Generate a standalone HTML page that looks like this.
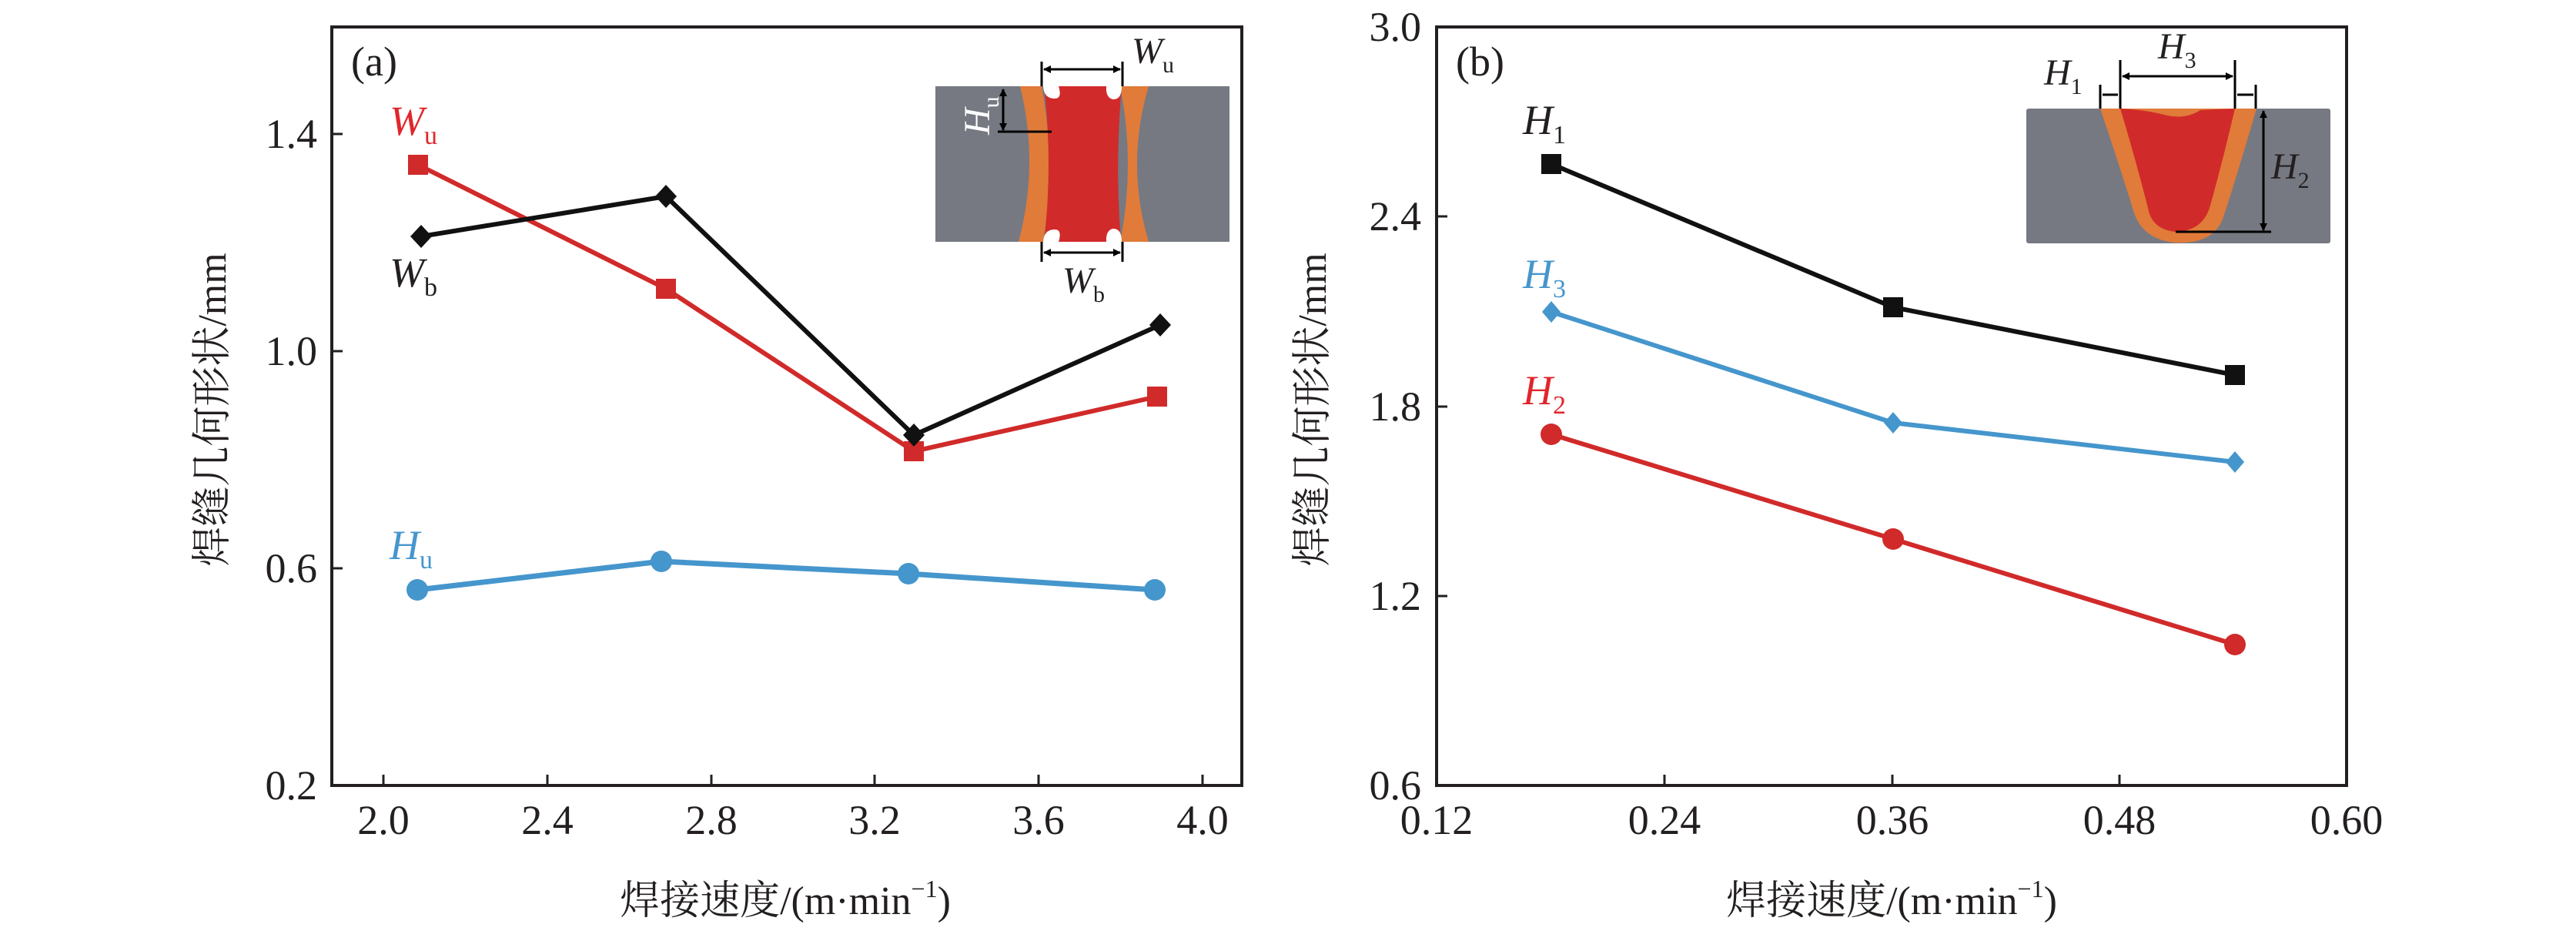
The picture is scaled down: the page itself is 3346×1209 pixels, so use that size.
<!DOCTYPE html>
<html><head><meta charset="utf-8"><style>
html,body{margin:0;padding:0;background:#fff;}
svg{display:block;}
text{font-family:"Liberation Serif","Noto Serif CJK SC",serif;fill:#231f20;}
.t{font-size:54px;}
.cj{font-family:"Liberation Serif","Noto Serif CJK SC","Noto Sans CJK SC",serif;font-size:52px;}
</style></head><body>
<svg width="3346" height="1209" viewBox="0 0 3346 1209" xmlns="http://www.w3.org/2000/svg">
<defs>
<marker id="ah" markerWidth="10" markerHeight="10" refX="9" refY="5" orient="auto-start-reverse" markerUnits="userSpaceOnUse"><path d="M0,0 L10,5 L0,10 Z" fill="#000"/></marker>
</defs>
<!-- Panel a -->
<rect x="431" y="35" width="1182" height="985" fill="none" stroke="#231f20" stroke-width="4"/>
<g stroke="#231f20" stroke-width="3">
<line x1="498" y1="1020" x2="498" y2="1006"/><line x1="711" y1="1020" x2="711" y2="1006"/><line x1="924" y1="1020" x2="924" y2="1006"/><line x1="1136" y1="1020" x2="1136" y2="1006"/><line x1="1349" y1="1020" x2="1349" y2="1006"/><line x1="1562" y1="1020" x2="1562" y2="1006"/>
<line x1="431" y1="174" x2="445" y2="174"/><line x1="431" y1="456" x2="445" y2="456"/><line x1="431" y1="738" x2="445" y2="738"/>
</g>
<g class="t" text-anchor="end">
<text x="412" y="192">1.4</text><text x="412" y="474">1.0</text><text x="412" y="756">0.6</text><text x="412" y="1038">0.2</text>
</g>
<g class="t" text-anchor="middle">
<text x="498" y="1083">2.0</text><text x="711" y="1083">2.4</text><text x="924" y="1083">2.8</text><text x="1136" y="1083">3.2</text><text x="1349" y="1083">3.6</text><text x="1562" y="1083">4.0</text>
</g>
<text class="cj" x="1020" y="1187" text-anchor="middle">焊接速度/(m·min<tspan font-size="32" dy="-22">−1</tspan><tspan dy="22">)</tspan></text>
<text class="cj" transform="translate(293,532) rotate(-90)" text-anchor="middle">焊缝几何形状/mm</text>
<text class="t" x="456" y="98">(a)</text>
<!-- series a -->
<polyline points="543,214 865,375 1187,586 1503,515" fill="none" stroke="#d12a2a" stroke-width="6"/>
<polyline points="547,307 865,255 1187,565 1507,422" fill="none" stroke="#111" stroke-width="6"/>
<polyline points="542,766 859,729 1180,745 1500,766" fill="none" stroke="#4596cc" stroke-width="7"/>
<g fill="#d12a2a"><rect x="530" y="201" width="26" height="26"/><rect x="852" y="362" width="26" height="26"/><rect x="1174" y="573" width="26" height="26"/><rect x="1490" y="502" width="26" height="26"/></g>
<g fill="#111"><path d="M547,292 l14,15 l-14,15 l-14,-15z"/><path d="M865,240 l14,15 l-14,15 l-14,-15z"/><path d="M1187,550 l14,15 l-14,15 l-14,-15z"/><path d="M1507,407 l14,15 l-14,15 l-14,-15z"/></g>
<g fill="#4596cc"><circle cx="542" cy="766" r="14"/><circle cx="859" cy="729" r="14"/><circle cx="1180" cy="745" r="14"/><circle cx="1500" cy="766" r="14"/></g>
<text x="506" y="175" font-size="54" font-style="italic" fill="#e0262b" style="fill:#e0262b">W<tspan font-size="34" font-style="normal" dy="12">u</tspan></text>
<text x="506" y="372" font-size="54" font-style="italic">W<tspan font-size="34" font-style="normal" dy="12">b</tspan></text>
<text x="506" y="726" font-size="54" font-style="italic" style="fill:#4596cc">H<tspan font-size="34" font-style="normal" dy="12">u</tspan></text>
<!-- inset a -->
<rect x="1215" y="112" width="382" height="202" fill="#767982"/>
<path d="M1325,112 L1353,112 Q1372,213 1355,314 L1323,314 Q1350,213 1325,112Z" fill="#e07b39"/>
<path d="M1455,112 L1492,112 Q1462,213 1492,314 L1455,314 Q1475,213 1455,112Z" fill="#e07b39"/>
<path d="M1356,112 L1457,112 Q1448,213 1456,314 L1356,314 Q1368,213 1356,112Z" fill="#d12a2a"/>
<path d="M1355,112 L1375,112 Q1380,128 1370,128 Q1356,128 1355,112Z" fill="#fff"/>
<path d="M1437,112 L1457,112 Q1457,130 1445,129 Q1436,126 1437,112Z" fill="#fff"/>
<path d="M1355,314 L1375,314 Q1380,298 1370,298 Q1356,298 1355,314Z" fill="#fff"/>
<path d="M1437,314 L1457,314 Q1457,296 1445,297 Q1436,300 1437,314Z" fill="#fff"/>
<g stroke="#000" stroke-width="3" fill="none">
<line x1="1353" y1="80" x2="1353" y2="112"/><line x1="1458" y1="80" x2="1458" y2="112"/>
<line x1="1356" y1="90" x2="1455" y2="90" marker-start="url(#ah)" marker-end="url(#ah)"/>
<line x1="1353" y1="314" x2="1353" y2="340"/><line x1="1458" y1="314" x2="1458" y2="340"/>
<line x1="1356" y1="328" x2="1455" y2="328" marker-start="url(#ah)" marker-end="url(#ah)"/>
<line x1="1303" y1="116" x2="1303" y2="169" marker-start="url(#ah)" marker-end="url(#ah)"/>
<line x1="1296" y1="171" x2="1366" y2="171"/>
</g>
<text x="1470" y="82" font-size="48" font-style="italic">W<tspan font-size="30" font-style="normal" dy="12">u</tspan></text>
<text x="1380" y="380" font-size="48" font-style="italic">W<tspan font-size="30" font-style="normal" dy="12">b</tspan></text>
<text transform="translate(1285,175) rotate(-90)" font-size="48" font-style="italic" fill="#fff" style="fill:#fff">H<tspan font-size="30" font-style="normal" dy="12">u</tspan></text>

<!-- Panel b -->
<rect x="1866" y="35" width="1182" height="985" fill="none" stroke="#231f20" stroke-width="4"/>
<g stroke="#231f20" stroke-width="3">
<line x1="2162" y1="1020" x2="2162" y2="1006"/><line x1="2458" y1="1020" x2="2458" y2="1006"/><line x1="2753" y1="1020" x2="2753" y2="1006"/>
<line x1="1866" y1="281" x2="1880" y2="281"/><line x1="1866" y1="528" x2="1880" y2="528"/><line x1="1866" y1="774" x2="1880" y2="774"/>
</g>
<g class="t" text-anchor="end">
<text x="1846" y="53">3.0</text><text x="1846" y="299">2.4</text><text x="1846" y="546">1.8</text><text x="1846" y="792">1.2</text><text x="1846" y="1038">0.6</text>
</g>
<g class="t" text-anchor="middle">
<text x="1866" y="1083">0.12</text><text x="2162" y="1083">0.24</text><text x="2458" y="1083">0.36</text><text x="2753" y="1083">0.48</text><text x="3048" y="1083">0.60</text>
</g>
<text class="cj" x="2457" y="1187" text-anchor="middle">焊接速度/(m·min<tspan font-size="32" dy="-22">−1</tspan><tspan dy="22">)</tspan></text>
<text class="cj" transform="translate(1722,532) rotate(-90)" text-anchor="middle">焊缝几何形状/mm</text>
<text class="t" x="1891" y="98">(b)</text>
<polyline points="2015,213 2459,399 2903,487" fill="none" stroke="#111" stroke-width="6"/>
<polyline points="2015,405 2459,549 2903,600" fill="none" stroke="#4596cc" stroke-width="6"/>
<polyline points="2015,564 2459,700 2903,837" fill="none" stroke="#d12a2a" stroke-width="6"/>
<g fill="#111"><rect x="2002" y="200" width="26" height="26"/><rect x="2446" y="386" width="26" height="26"/><rect x="2890" y="474" width="26" height="26"/></g>
<g fill="#4596cc"><path d="M2015,391 l12,14 l-12,14 l-12,-14z"/><path d="M2459,535 l12,14 l-12,14 l-12,-14z"/><path d="M2903,586 l12,14 l-12,14 l-12,-14z"/></g>
<g fill="#d12a2a"><circle cx="2015" cy="564" r="14"/><circle cx="2459" cy="700" r="14"/><circle cx="2903" cy="837" r="14"/></g>
<text x="1978" y="174" font-size="54" font-style="italic">H<tspan font-size="34" font-style="normal" dy="12">1</tspan></text>
<text x="1978" y="374" font-size="54" font-style="italic" style="fill:#4596cc">H<tspan font-size="34" font-style="normal" dy="12">3</tspan></text>
<text x="1978" y="525" font-size="54" font-style="italic" style="fill:#e0262b">H<tspan font-size="34" font-style="normal" dy="12">2</tspan></text>
<!-- inset b -->
<rect x="2632" y="141" width="395" height="175" rx="3" fill="#767982"/>
<path d="M2728,141 L2931,141 Q2905,230 2887,285 Q2873,318 2824,315 Q2780,310 2770,270 Q2748,200 2728,141Z" fill="#e07b39"/>
<path d="M2754,141 Q2790,143 2815,150 Q2840,155 2858,143 L2903,141 Q2887,210 2870,270 Q2860,300 2826,301 Q2795,298 2790,270 Q2772,200 2754,141Z" fill="#d12a2a"/>
<g stroke="#000" stroke-width="3" fill="none">
<line x1="2728" y1="110" x2="2728" y2="141"/><line x1="2754" y1="78" x2="2754" y2="141"/><line x1="2903" y1="78" x2="2903" y2="141"/><line x1="2930" y1="110" x2="2930" y2="141"/>
<line x1="2757" y1="99" x2="2900" y2="99" marker-start="url(#ah)" marker-end="url(#ah)"/>
<line x1="2731" y1="123" x2="2751" y2="123"/>
<line x1="2906" y1="123" x2="2927" y2="123"/>
<line x1="2940" y1="144" x2="2940" y2="299" marker-start="url(#ah)" marker-end="url(#ah)"/>
<line x1="2826" y1="301" x2="2950" y2="301"/>
</g>
<text x="2655" y="110" font-size="48" font-style="italic">H<tspan font-size="30" font-style="normal" dy="12">1</tspan></text>
<text x="2803" y="76" font-size="48" font-style="italic">H<tspan font-size="30" font-style="normal" dy="12">3</tspan></text>
<text x="2950" y="232" font-size="48" font-style="italic">H<tspan font-size="30" font-style="normal" dy="12">2</tspan></text>
</svg>
</body></html>
